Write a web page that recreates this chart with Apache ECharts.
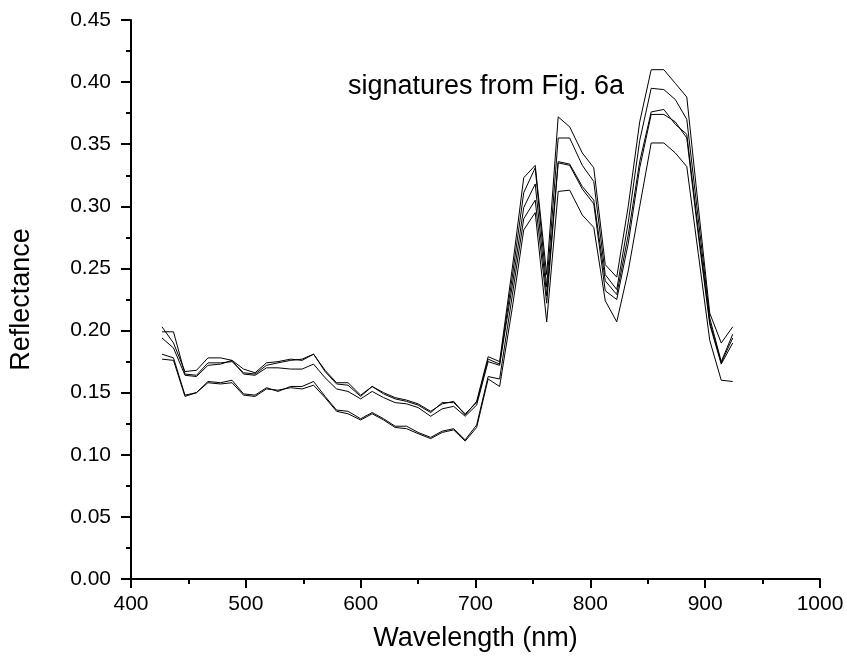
<!DOCTYPE html>
<html>
<head>
<meta charset="utf-8">
<script src="https://cdn.jsdelivr.net/npm/echarts@6/dist/echarts.min.js"></script>
<style>
html,body{margin:0;padding:0;background:#fff;}
#c{width:847px;height:664px;}
</style>
</head>
<body>
<div id="c"></div>
<script>
var wavelengths = [427,437,447,457,467,478,488,498,508,518,528,539,549,559,569,579,589,600,610,620,630,640,650,661,671,681,691,701,711,721,732,742,752,762,772,782,793,803,813,823,833,843,853,864,874,884,894,904,914,924];

var sigA = [0.203,0.190,0.167,0.168,0.178,0.178,0.176,0.169,0.166,0.174,0.175,0.177,0.176,0.181,0.168,0.158,0.158,0.148,0.155,0.150,0.146,0.144,0.141,0.135,0.141,0.143,0.132,0.143,0.179,0.175,0.250,0.323,0.333,0.245,0.372,0.364,0.343,0.331,0.253,0.243,0.300,0.368,0.410,0.410,0.399,0.388,0.300,0.214,0.190,0.203];
var sigB = [0.199,0.199,0.165,0.164,0.174,0.174,0.175,0.166,0.165,0.172,0.174,0.176,0.177,0.181,0.167,0.157,0.156,0.147,0.155,0.149,0.145,0.143,0.140,0.134,0.142,0.142,0.133,0.142,0.177,0.173,0.243,0.311,0.331,0.235,0.355,0.355,0.333,0.320,0.245,0.233,0.287,0.353,0.395,0.394,0.386,0.370,0.290,0.210,0.175,0.197];
var sigC = [0.194,0.186,0.164,0.163,0.172,0.173,0.176,0.165,0.164,0.170,0.170,0.169,0.169,0.173,0.162,0.153,0.151,0.145,0.151,0.146,0.142,0.141,0.138,0.131,0.137,0.139,0.131,0.140,0.175,0.172,0.236,0.299,0.318,0.228,0.336,0.334,0.316,0.305,0.240,0.229,0.277,0.336,0.376,0.378,0.366,0.358,0.281,0.207,0.174,0.194];
var sigD = [0.181,0.178,0.148,0.150,0.159,0.158,0.160,0.149,0.148,0.154,0.151,0.155,0.155,0.159,0.147,0.136,0.135,0.129,0.134,0.129,0.123,0.123,0.118,0.114,0.119,0.121,0.112,0.124,0.163,0.161,0.228,0.290,0.305,0.222,0.335,0.333,0.314,0.302,0.232,0.225,0.270,0.331,0.374,0.374,0.368,0.355,0.277,0.205,0.173,0.190];
var sigE = [0.177,0.176,0.147,0.150,0.158,0.157,0.158,0.148,0.147,0.153,0.152,0.154,0.153,0.156,0.146,0.135,0.133,0.128,0.133,0.128,0.122,0.121,0.117,0.113,0.118,0.120,0.111,0.122,0.161,0.155,0.218,0.281,0.295,0.207,0.312,0.313,0.293,0.283,0.224,0.207,0.248,0.300,0.351,0.351,0.343,0.332,0.262,0.192,0.160,0.159];

var signatures = [sigA, sigB, sigC, sigD, sigE];
var xTicks = [400, 500, 600, 700, 800, 900, 1000];
var yTicks = [0.00,0.05,0.10,0.15,0.20,0.25,0.30,0.35,0.40,0.45];

var chart = echarts.init(document.getElementById('c'), null, {renderer:'canvas'});
var FONT = 'Liberation Sans, Arial, sans-serif';

var series = signatures.map(function(vals){
  return {
    type:'line',
    showSymbol:false,
    symbol:'none',
    silent:true,
    animation:false,
    lineStyle:{color:'#000', width:1},
    data: wavelengths.map(function(w,i){ return [w, vals[i]]; })
  };
});

chart.setOption({
  backgroundColor:'#fff',
  animation:false,
  grid:{left:130, right:27, top:20, bottom:85, containLabel:false},
  xAxis:{
    type:'value', min:xTicks[0], max:xTicks[xTicks.length-1], interval:100,
    name:'Wavelength (nm)', nameLocation:'middle', nameGap:46,
    nameTextStyle:{fontFamily:FONT, fontSize:27, color:'#000'},
    axisLine:{lineStyle:{color:'#000', width:2}},
    axisTick:{show:true, inside:false, length:9, lineStyle:{color:'#000', width:2}},
    minorTick:{show:true, splitNumber:2, length:5, lineStyle:{color:'#000', width:2}},
    axisLabel:{fontFamily:FONT, fontSize:21, color:'#000', margin:15,
      formatter:function(v){return String(v);}},
    splitLine:{show:false}
  },
  yAxis:{
    type:'value', min:yTicks[0], max:yTicks[yTicks.length-1], interval:0.05,
    name:'Reflectance', nameLocation:'middle', nameGap:96, nameRotate:90,
    nameTextStyle:{fontFamily:FONT, fontSize:27, color:'#000'},
    axisLine:{show:true, lineStyle:{color:'#000', width:2}},
    axisTick:{show:true, inside:false, length:10, lineStyle:{color:'#000', width:2}},
    minorTick:{show:true, splitNumber:2, length:5, lineStyle:{color:'#000', width:2}},
    axisLabel:{fontFamily:FONT, fontSize:21, color:'#000', margin:20,
      formatter:function(v){return v.toFixed(2);}},
    splitLine:{show:false}
  },
  graphic:[{
    type:'text', left:348, top:73,
    style:{text:'signatures from Fig. 6a', fontFamily:FONT, fontSize:27, fill:'#000'}
  }],
  series: series
});
</script>
</body>
</html>
